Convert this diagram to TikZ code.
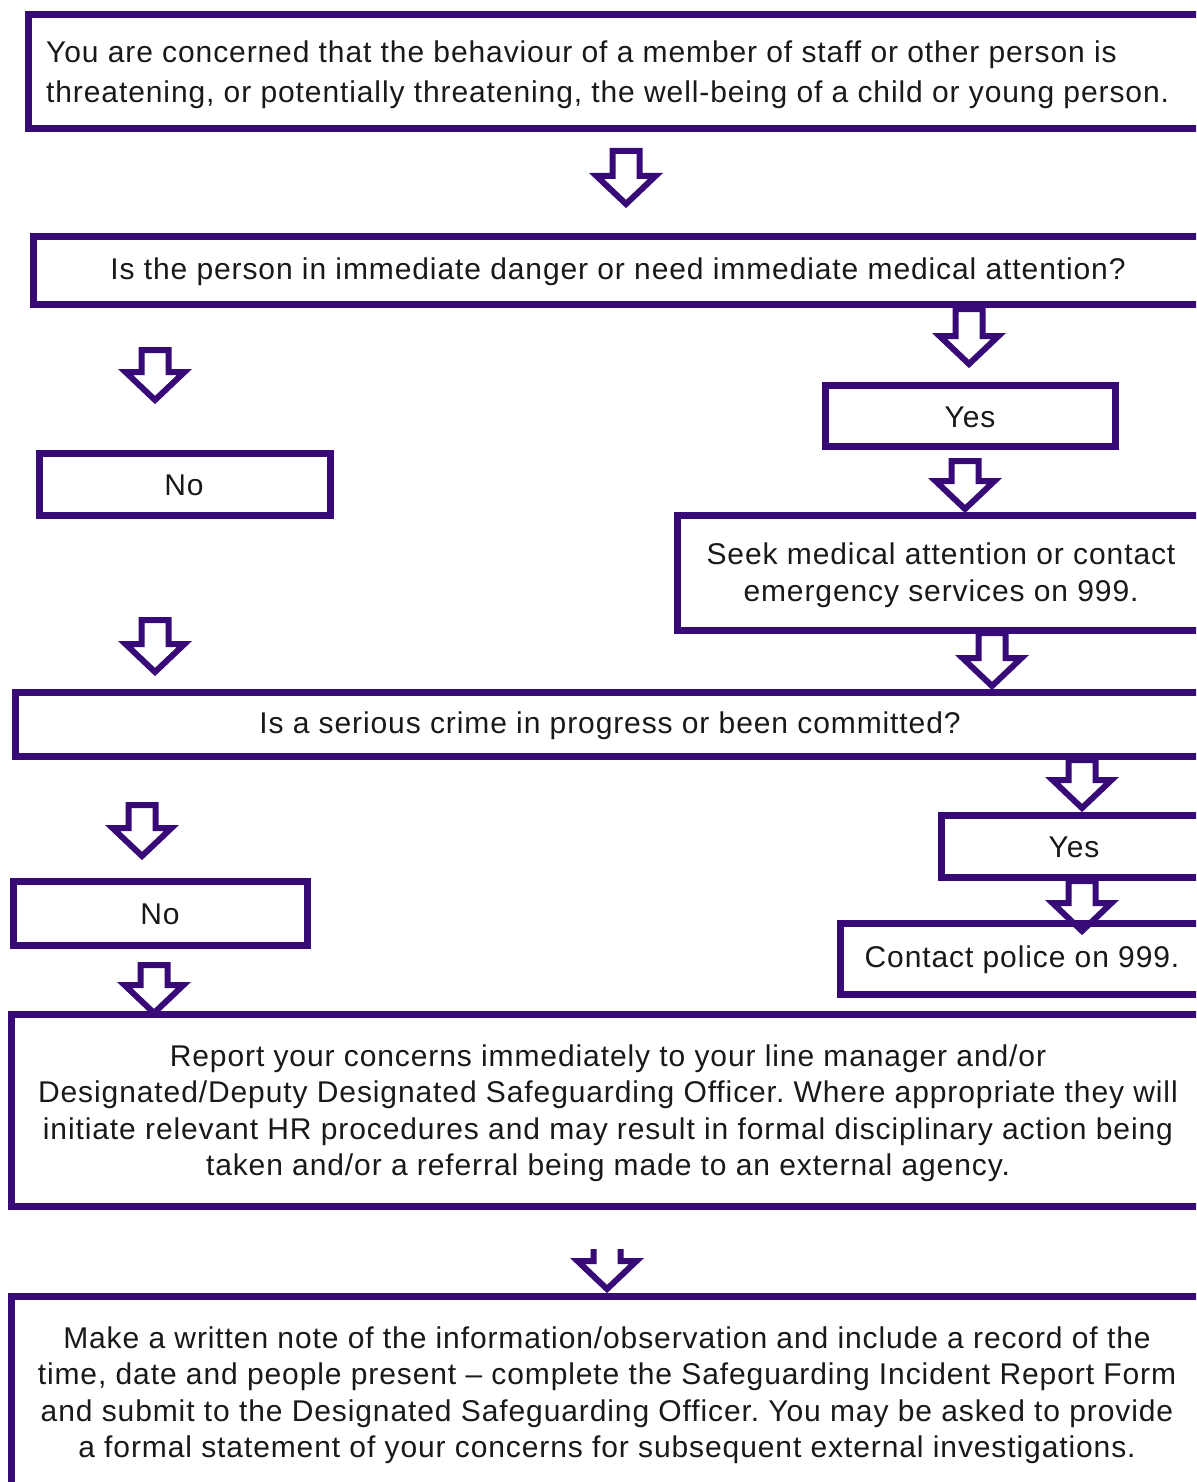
\documentclass[tikz,border=0pt]{standalone}
\usepackage{fontspec}
\setmainfont{Liberation Sans}[LetterSpace=3]
\frenchspacing
\definecolor{ppl}{RGB}{56,10,120}
\definecolor{ink}{RGB}{25,25,25}
\tikzset{
  box/.style={draw=ppl, line width=7pt, line join=miter},
  arr/.style={draw=ppl, fill=white, line width=6pt, line join=miter},
  txt/.style={text=ink, font=\fontsize{30}{36.5}\selectfont\frenchspacing, align=center, inner sep=0pt},
}
\newcommand\blockarr[3]{%
  \draw[arr] (#1-13.5,#2+3) -- (#1+13.5,#2+3) -- (#1+13.5,#3-32) -- (#1+29.5,#3-32)
    -- (#1,#3-4) -- (#1-29.5,#3-32) -- (#1-13.5,#3-32) -- cycle;}
\begin{document}
\begin{tikzpicture}[x=1pt,y=-1pt]
\useasboundingbox (0,0) rectangle (1196,1482);
\clip (0,0) rectangle (1196,1482);
\fill[white] (0,0) rectangle (1196,1482);
% arrows
\blockarr{626}{148}{208}
\blockarr{969}{306}{368}
\blockarr{155}{347}{404}
\blockarr{965}{458}{513}
\blockarr{992}{630}{690}
\blockarr{155}{617}{676}
\blockarr{1082}{757}{812}
\blockarr{142}{802}{860}
\blockarr{1082}{878}{935}
\blockarr{154}{962}{1017}
\begin{scope}
\clip (0,1249) rectangle (1196,1482);
\blockarr{607}{1236}{1293}
\end{scope}
% boxes
\draw[box] (28,15) rectangle (1215,129);
\node[txt, font=\fontsize{30}{40}\selectfont\frenchspacing, align=left, anchor=west] (t1) at (46,75) {You are concerned that the behaviour of a member of staff or other person is\\threatening, or potentially threatening, the well-being of a child or young person.};
\draw[box] (33,236) rectangle (1215,304);
\node[txt] (t2) at (618,272) {Is the person in immediate danger or need immediate medical attention?};
\draw[box] (825,385) rectangle (1115,446);
\node[txt] (y1) at (970,417) {Yes};
\draw[box] (39,453) rectangle (330,515);
\node[txt] (n1) at (184,485) {No};
\draw[box] (677,515) rectangle (1215,630);
\node[txt] (t3) at (941,575) {Seek medical attention or contact\\emergency services on 999.};
\draw[box] (15,692) rectangle (1215,756);
\node[txt] (t4) at (610,726) {Is a serious crime in progress or been committed?};
\draw[box] (941,815) rectangle (1215,877);
\node[txt] (y2) at (1074,847) {Yes};
\draw[box] (13,881) rectangle (307,945);
\node[txt] (n2) at (160,914) {No};
\draw[box] (840,923) rectangle (1215,994);
\node[txt] (t5) at (1022,960) {Contact police on 999.};
\draw[box] (11,1014) rectangle (1215,1206);
\node[txt] (t6) at (608,1113) {Report your concerns immediately to your line manager and/or\\Designated/Deputy Designated Safeguarding Officer. Where appropriate they will\\initiate relevant HR procedures and may result in formal disciplinary action being\\taken and/or a referral being made to an external agency.};
\draw[box] (11,1296) rectangle (1215,1520);
\node[txt] (t7) at (607,1395) {Make a written note of the information/observation and include a record of the\\time, date and people present -- complete the Safeguarding Incident Report Form\\and submit to the Designated Safeguarding Officer. You may be asked to provide\\a formal statement of your concerns for subsequent external investigations.};
\end{tikzpicture}
\end{document}
